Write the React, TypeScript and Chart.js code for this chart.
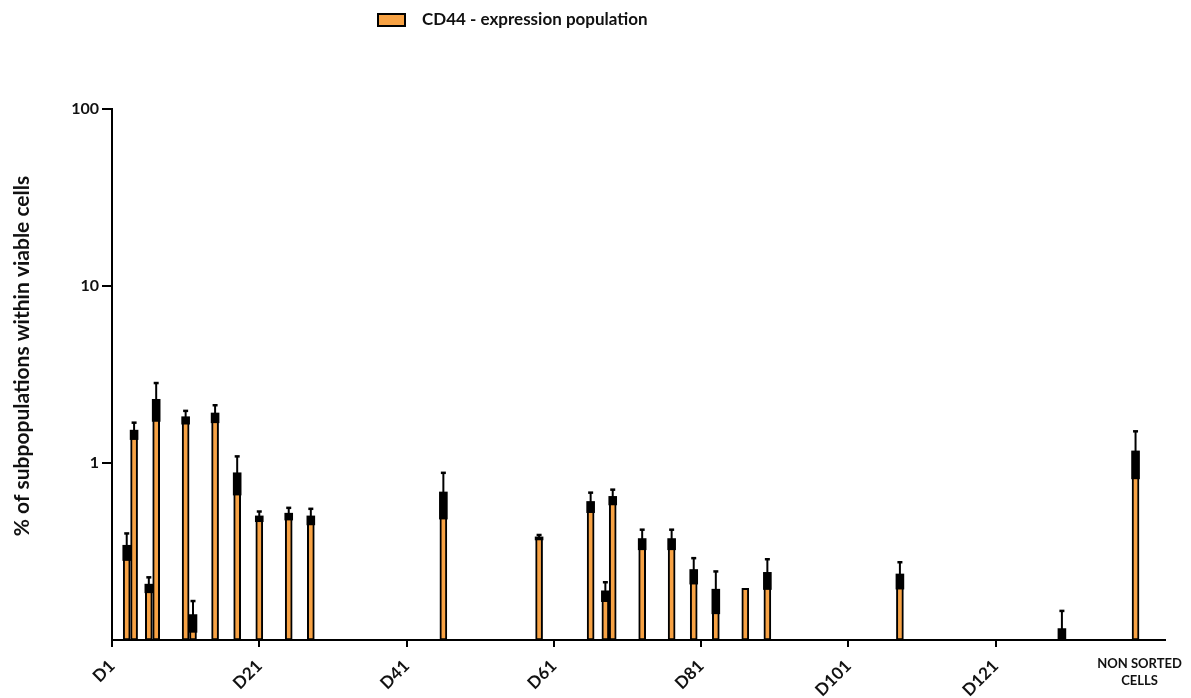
import React, { useEffect, useRef } from "react";
import { Chart, registerables } from "chart.js";

Chart.register(...registerables);

// Day of sampling for each bar (x position) — last one is the non-sorted control
const days = [3, 4, 6, 7, 11, 12, 15, 18, 21, 25, 28, 46, 59, 66, 68, 69, 73, 77, 80, 83, 87, 90, 108, 130, 140];
// Mean % of CD44-expression population within viable cells
const means = [0.34, 1.52, 0.205, 2.27, 1.81, 0.138, 1.9, 0.873, 0.498, 0.516, 0.498, 0.68, 0.379, 0.601, 0.188, 0.642, 0.371, 0.371, 0.248, 0.192, 0.196, 0.239, 0.234, 0.115, 1.16];
// Standard deviations
const sds = [0.06, 0.17, 0.021, 0.56, 0.16, 0.028, 0.22, 0.217, 0.034, 0.042, 0.053, 0.2, 0.013, 0.079, 0.024, 0.065, 0.049, 0.049, 0.042, 0.052, 0, 0.047, 0.041, 0.031, 0.35];

const xTickDays = [1, 21, 41, 61, 81, 101, 121];
const xTickLabels = ["D1", "D21", "D41", "D61", "D81", "D101", "D121"];
const nonSortedDay = 140;
const nonSortedLabel = ["NON SORTED", "CELLS"];
const yTickValues = [1, 10, 100];

const seriesLabel = "CD44 - expression population";
const yTitle = "% of subpopulations within viable cells";

const ORANGE = "#F7A244";
const FONT = "Lato, 'Open Sans', sans-serif";

export default function App() {
  const ref = useRef<HTMLCanvasElement | null>(null);

  useEffect(() => {
    if (!ref.current) return;

    const extras = {
      id: "extras",
      afterDatasetsDraw(chart: any) {
        const ctx = chart.ctx;
        const ys = chart.scales.y;
        const meta = chart.getDatasetMeta(0);
        const bottom = chart.chartArea.bottom;
        ctx.save();
        ctx.fillStyle = "#000";
        ctx.strokeStyle = "#000";
        meta.data.forEach((bar: any, i: number) => {
          const sd = sds[i];
          if (!sd) return;
          const x = bar.x;
          const yMean = bar.y;
          const lo = means[i] - sd;
          const yLo = lo > ys.min ? ys.getPixelForValue(lo) : bottom;
          const yHi = ys.getPixelForValue(means[i] + sd);
          // lower part: thick black block inside the bar
          ctx.fillRect(x - 4.3, yMean - 1, 8.6, yLo - yMean + 1);
          // upper whisker
          ctx.lineWidth = 2;
          ctx.beginPath();
          ctx.moveTo(x, yMean);
          ctx.lineTo(x, yHi);
          ctx.stroke();
          // cap
          ctx.lineWidth = 2.5;
          ctx.beginPath();
          ctx.moveTo(x - 2.5, yHi);
          ctx.lineTo(x + 2.5, yHi);
          ctx.stroke();
        });
        ctx.restore();
      },
      afterDraw(chart: any) {
        const ctx = chart.ctx;
        const xs = chart.scales.x;
        ctx.save();
        ctx.fillStyle = "#111";
        // y axis title
        ctx.font = `bold 21px ${FONT}`;
        ctx.textAlign = "center";
        ctx.textBaseline = "middle";
        ctx.translate(22, 356);
        ctx.rotate(-Math.PI / 2);
        ctx.fillText(yTitle, 0, 0);
        ctx.restore();

        ctx.save();
        ctx.fillStyle = "#111";
        ctx.font = `bold 13px ${FONT}`;
        ctx.textAlign = "center";
        ctx.textBaseline = "middle";
        const nx = xs.getPixelForValue(nonSortedDay) + 4;
        ctx.fillText(nonSortedLabel[0], nx, 664);
        ctx.fillText(nonSortedLabel[1], nx, 681);
        ctx.restore();

        // legend
        ctx.save();
        ctx.fillStyle = ORANGE;
        ctx.fillRect(378, 14, 27, 12);
        ctx.strokeStyle = "#000";
        ctx.lineWidth = 2;
        ctx.strokeRect(378, 14, 27, 12);
        ctx.fillStyle = "#111";
        ctx.font = `bold 17px ${FONT}`;
        ctx.textAlign = "left";
        ctx.textBaseline = "middle";
        ctx.fillText(seriesLabel, 422, 20);
        ctx.restore();
      },
    };

    const chart = new Chart(ref.current, {
      type: "bar",
      data: {
        datasets: [
          {
            label: seriesLabel,
            data: days.map((d, i) => ({ x: d, y: means[i] })),
            backgroundColor: ORANGE,
            borderColor: "#000",
            borderWidth: 2,
            borderSkipped: false,
            barThickness: 7,
          },
        ],
      },
      options: {
        responsive: false,
        animation: false,
        layout: { padding: { left: 0, right: 26, top: 109, bottom: 0 } },
        plugins: {
          legend: { display: false },
          tooltip: { enabled: false },
        },
        scales: {
          x: {
            type: "linear",
            min: 1,
            max: 144,
            offset: false,
            grid: {
              offset: false,
              drawOnChartArea: false,
              drawTicks: true,
              tickLength: 7,
              color: "#000",
              lineWidth: 2,
            },
            border: { display: true, color: "#000", width: 2 },
            afterBuildTicks: (scale: any) => {
              scale.ticks = xTickDays.map((v) => ({ value: v }));
            },
            afterFit: (scale: any) => {
              scale.height = 58;
            },
            ticks: {
              autoSkip: false,
              minRotation: 45,
              maxRotation: 45,
              padding: 9,
              color: "#111",
              font: { family: FONT, size: 17, weight: "bold" },
              callback: (value: any) => {
                const idx = xTickDays.indexOf(Number(value));
                return idx >= 0 ? xTickLabels[idx] : "";
              },
            },
          },
          y: {
            type: "logarithmic",
            min: 0.1,
            max: 100,
            grid: {
              drawOnChartArea: false,
              drawTicks: true,
              tickLength: 10,
              color: "#000",
              lineWidth: 2,
            },
            border: { display: true, color: "#000", width: 2 },
            afterBuildTicks: (scale: any) => {
              scale.ticks = yTickValues.map((v) => ({ value: v }));
            },
            afterFit: (scale: any) => {
              scale.width = 112;
            },
            ticks: {
              autoSkip: false,
              padding: 3,
              color: "#111",
              font: { family: FONT, size: 16, weight: "bold" },
              callback: (value: any) => String(value),
            },
          },
        },
      },
      plugins: [extras],
    } as any);

    return () => chart.destroy();
  }, []);

  return (
    <div style={{ position: "absolute", left: 0, top: 0, width: 1191, height: 698, background: "#fff" }}>
      <canvas ref={ref} width={1191} height={698} style={{ width: 1191, height: 698 }} />
    </div>
  );
}
